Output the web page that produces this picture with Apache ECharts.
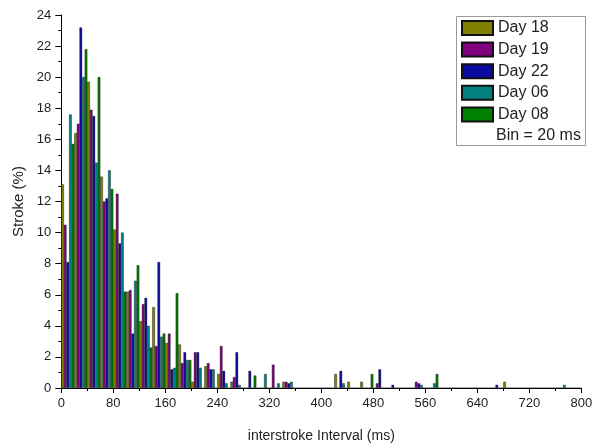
<!DOCTYPE html>
<html>
<head>
<meta charset="utf-8">
<script src="https://cdn.jsdelivr.net/npm/echarts@6/dist/echarts.min.js"></script>
<style>html,body{margin:0;padding:0;background:#fff;}#c{width:602px;height:448px;}</style>
</head>
<body>
<div id="c"></div>
<script>
// Bin left edges (ms), bin width 20 ms
const binStarts = [0,20,40,60,80,100,120,140,160,180,200,220,240,260,280,300,320,340,360,380,
                   400,420,440,460,480,500,520,540,560,580,600,620,640,660,680,700,720,740,760,780];
const seriesNames = ['Day 18','Day 19','Day 22','Day 06','Day 08'];
const day18 = [13.1,16.4,19.7,13.6,10.2,6.2,4.3,5.2,2.9,2.8,0.4,1.4,0.9,0.4,0,0,0,0.4,0,0,
               0,0.9,0.4,0.4,0,0,0,0,0,0,0,0,0,0,0.4,0,0,0,0,0];
const day19 = [10.5,17.0,17.9,12.0,12.5,6.3,5.4,2.7,3.5,1.6,2.3,1.6,2.7,0.7,0,0,1.5,0.4,0,0,
               0,0,0,0,0.3,0,0,0.4,0,0,0,0,0,0,0,0,0,0,0,0];
const day22 = [8.1,23.2,17.5,12.2,9.3,3.5,5.8,8.1,1.2,2.3,2.3,1.2,1.1,2.3,1.1,0,0,0.3,0,0,
               0,1.1,0,0,1.2,0.2,0,0.3,0,0,0,0,0,0.2,0,0,0,0,0,0];
const day06 = [17.6,20.0,14.5,14.0,10.0,6.9,4.0,3.3,1.3,1.8,1.3,1.2,0.3,0.2,0,0.9,0.3,0.4,0,0,
               0,0.3,0,0,0,0,0,0.2,0.3,0,0,0,0,0,0,0,0,0,0.2,0];
const day08 = [15.7,21.8,20.0,12.8,6.2,7.9,2.6,3.5,6.1,1.8,0,0,0,0,0.8,0,0,0,0,0,
               0,0,0,0.9,0,0,0,0,0.9,0,0,0,0,0,0,0,0,0,0,0];
const seriesValues = [day18, day19, day22, day06, day08];
const colors = ['#808000','#800080','#0a0aa0','#008080','#008000'];
const xTicks = [0,80,160,240,320,400,480,560,640,720,800];
const yTicks = [0,2,4,6,8,10,12,14,16,18,20,22,24];

const chart = echarts.init(document.getElementById('c'), null, {renderer:'canvas'});
const font = 'Liberation Sans, Arial, sans-serif';
const grid = {left:61.3, right:20.7, top:15, bottom:58};
const option = {
  animation:false,
  backgroundColor:'#fff',
  grid: grid,
  legend: {
    orient:'vertical', left:461, top:20, padding:0,
    itemWidth:31, itemHeight:14, itemGap:5.6, icon:'rect',
    textStyle:{fontFamily:font, fontSize:16, color:'#222'},
    data: seriesNames
  },
  xAxis: [
    {type:'category', data: binStarts.map(String), show:false, boundaryGap:true},
    {type:'value', min:xTicks[0], max:xTicks[xTicks.length-1], interval:80, position:'bottom',
     name:'interstroke Interval (ms)', nameLocation:'middle', nameGap:41,
     nameTextStyle:{fontFamily:font, fontSize:14, color:'#222'},
     axisLine:{show:true, onZero:false, lineStyle:{color:'#000', width:1}},
     axisTick:{show:true, inside:false, length:5, lineStyle:{color:'#000'}},
     minorTick:{show:true, splitNumber:2, length:3, lineStyle:{color:'#000'}},
     axisLabel:{fontFamily:font, fontSize:13, color:'#222', margin:9},
     splitLine:{show:false}}
  ],
  yAxis: {type:'value', min:yTicks[0], max:yTicks[yTicks.length-1], interval:2,
     name:'Stroke (%)', nameLocation:'middle', nameGap:34,
     nameTextStyle:{fontFamily:font, fontSize:15, color:'#222'},
     axisLine:{show:true, lineStyle:{color:'#000', width:1}},
     axisTick:{show:true, inside:false, length:6, lineStyle:{color:'#000'}},
     minorTick:{show:true, splitNumber:2, length:3, lineStyle:{color:'#000'}},
     axisLabel:{fontFamily:font, fontSize:13, color:'#222', margin:10},
     splitLine:{show:false}},
  series: seriesNames.map((n,i)=>({
    name:n, type:'bar', xAxisIndex:0, data:seriesValues[i],
    barGap:'0%', barCategoryGap:'0%',
    itemStyle:{color:colors[i], borderColor:'#111', borderWidth:0.4}
  })),
  graphic: [
    {type:'rect', shape:{x:456.5, y:16.5, width:129, height:129}, z:-1,
     style:{fill:'#fff', stroke:'#999', lineWidth:1}},
    {type:'text', left:496, top:128, style:{text:'Bin = 20 ms', fontFamily:font, fontSize:16, fill:'#222'}}
  ]
};
chart.setOption(option);
</script>
</body>
</html>
